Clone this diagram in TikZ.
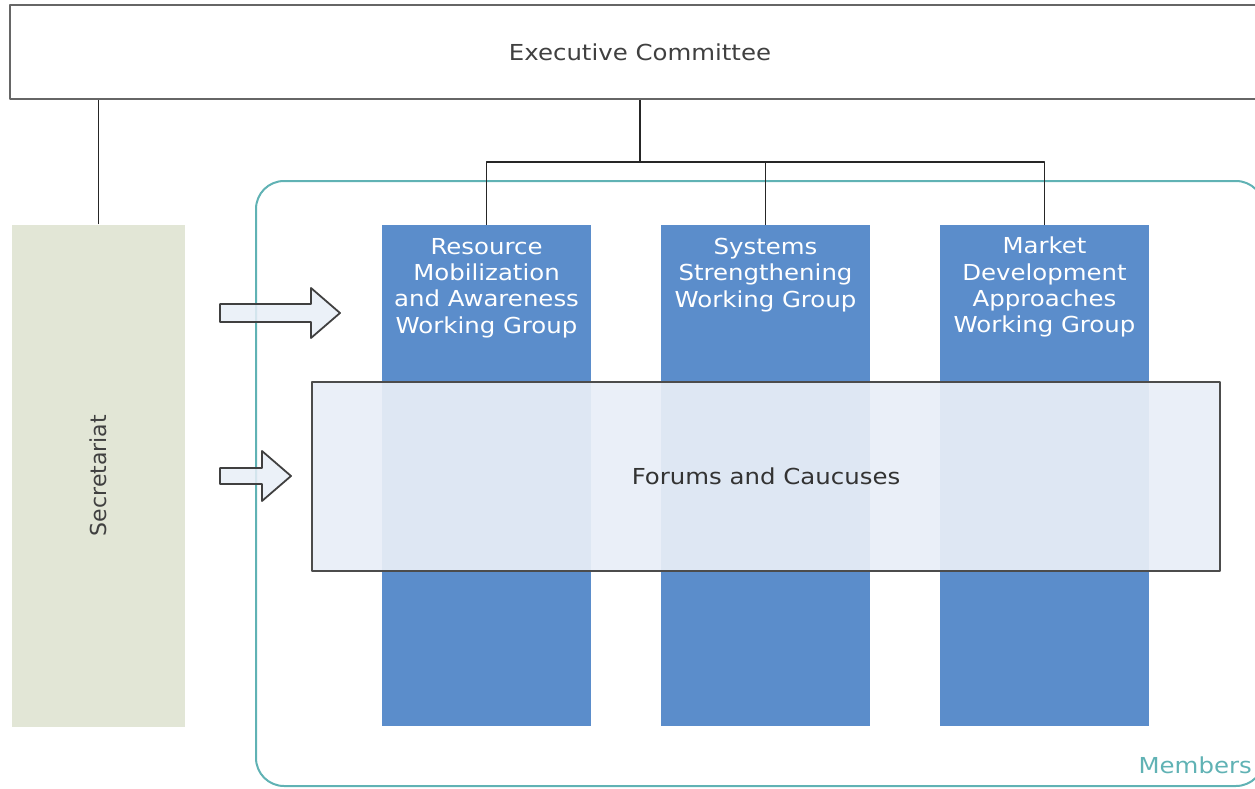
\documentclass[tikz,border=0pt]{standalone}
\usepackage{fontspec}
\setmainfont{DejaVu Sans}[FakeStretch=1.11]
\newfontfamily\secfont{DejaVu Sans}
\usetikzlibrary{positioning}
\definecolor{wgblue}{RGB}{91,141,203}
\definecolor{forumfill}{RGB}{232,238,247}
\definecolor{secfill}{RGB}{226,230,214}
\definecolor{memteal}{RGB}{96,178,180}
\definecolor{textgray}{RGB}{64,64,64}
\begin{document}
\begin{tikzpicture}[x=1pt, y=-1pt, line join=round, font=\fontsize{22}{26.4}\selectfont,
		exbox/.style={draw=black!60, line width=2.4pt, fill=white, minimum width=1260pt, minimum height=94pt, text=textgray},
		secbox/.style={fill=secfill, minimum width=173pt, minimum height=502pt},
		wgbox/.style={fill=wgblue, minimum width=209pt, minimum height=501pt},
		wgtext/.style={text=white, align=center, inner sep=0pt},
		forumbox/.style={draw=black!70, line width=1.8pt, fill=forumfill, fill opacity=0.93, text opacity=1, minimum width=908pt, minimum height=189pt, text=black!80},
		conn/.style={draw=black!85, line width=1.8pt},
		blockarrow/.style={draw=black!75, line width=1.8pt, fill=forumfill, fill opacity=0.85}]
			\useasboundingbox (0,0) rectangle (1255,789);
			\draw[memteal, line width=2pt, rounded corners=28pt] (256,181) rectangle (1264,786);
			\node[exbox] (exec) at (640,52) {Executive Committee};
			\node[secbox] (secr) at (98.5,475.5) {};
			\node[rotate=90, text=textgray, font=\secfont\fontsize{22}{26.4}\selectfont] (sectext) at (secr.center) {Secretariat};
			\node[wgbox] (res) at (486.5,475.5) {};
			\node[wgbox] (sys) at (765.5,475.5) {};
			\node[wgbox] (mkt) at (1044.5,475.5) {};
			\node[wgtext, below=13pt of res.north] (restext) {Resource\\Mobilization\\and Awareness\\Working Group};
			\node[wgtext, below=13pt of sys.north] (systext) {Systems\\Strengthening\\Working Group};
			\node[wgtext, below=12pt of mkt.north] (mkttext) {Market\\Development\\Approaches\\Working Group};
			\node[forumbox] (forum) at (766,476.5) {Forums and Caucuses};
			\coordinate (split) at (640,162);
			\draw[conn] (secr.north) -- (secr.north |- exec.south);
			\draw[conn] (exec.south -| split) -- (split);
			\draw[conn] (res.north) |- (split) -| (mkt.north);
			\draw[conn] (sys.north) -- (sys.north |- split);
			\draw[blockarrow] (220,304) -- (311,304) -- (311,288) -- (340,313) -- (311,338) -- (311,322) -- (220,322) -- cycle;
			\draw[blockarrow] (220,468) -- (262,468) -- (262,451) -- (291,476) -- (262,501) -- (262,484) -- (220,484) -- cycle;
			\node[anchor=base east, text=memteal, inner sep=0pt] (memlabel) at (1252,773) {Members};
		\end{tikzpicture}
\end{document}
